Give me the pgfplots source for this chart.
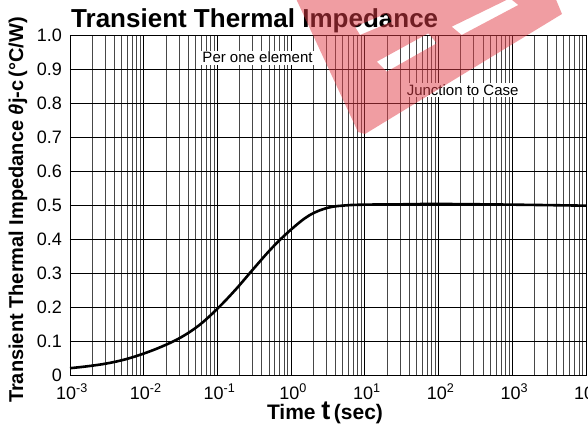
\documentclass[border=0pt]{standalone}
\usepackage{pgfplots}
\pgfplotsset{compat=1.18}
\usepackage{fontspec}
\setmainfont{Liberation Sans}
\definecolor{wm}{RGB}{225,60,70}
\begin{document}
\begin{tikzpicture}[x=1pt,y=1pt]
\begin{axis}[
  at={(0,0)}, anchor=south west,
  scale only axis, width=516pt, height=340pt,
  xmode=log, log basis x=10,
  xmin=1e-3, xmax=1e4, ymin=0, ymax=1,
  xtick={1e-3,1e-2,1e-1,1,1e1,1e2,1e3,1e4},
  xticklabels={10\textsuperscript{-3},10\textsuperscript{-2},10\textsuperscript{-1},10\textsuperscript{0},10\textsuperscript{1},10\textsuperscript{2},10\textsuperscript{3},10\textsuperscript{4}},
  minor xtick={2e-3,3e-3,4e-3,5e-3,6e-3,7e-3,8e-3,9e-3,
               2e-2,3e-2,4e-2,5e-2,6e-2,7e-2,8e-2,9e-2,
               0.2,0.3,0.4,0.5,0.6,0.7,0.8,0.9,
               2,3,4,5,6,7,8,9,
               20,30,40,50,60,70,80,90,
               200,300,400,500,600,700,800,900,
               2000,3000,4000,5000,6000,7000,8000,9000},
  ytick={0,0.1,0.2,0.3,0.4,0.5,0.6,0.7,0.8,0.9,1.0},
  yticklabels={0,0.1,0.2,0.3,0.4,0.5,0.6,0.7,0.8,0.9,1.0},
  grid=both,
  major grid style={black, line width=0.8pt},
  minor grid style={black!72, line width=0.7pt},
  major tick length=0pt, minor tick length=0pt,
  axis line style={black, line width=0.9pt},
  ticklabel style={font=\fontsize{18}{18}\selectfont},
  yticklabel style={inner sep=0pt, xshift=-8pt},
  xticklabel style={inner sep=0pt, yshift=-9pt, xshift=2pt},
]
\addplot[black, line width=2.6pt, smooth, tension=0.6] coordinates {
(0.001,0.020) (0.001778,0.026) (0.003162,0.034) (0.005623,0.046) (0.01,0.063)
(0.01778,0.084) (0.03162,0.110) (0.05623,0.146) (0.1,0.195) (0.1778,0.252)
(0.3162,0.315) (0.5623,0.376) (1,0.428) (1.778,0.470) (3.162,0.492)
(5.623,0.499) (10,0.501) (31.62,0.502) (100,0.503) (1000,0.501) (10000,0.498)};
\node[anchor=base, fill=white, inner sep=1.5pt, font=\fontsize{15}{15}\selectfont] at (axis cs:0.35,0.918) {Per one element};
\node[anchor=base, fill=white, inner sep=1.5pt, font=\fontsize{15}{15}\selectfont] at (axis cs:212,0.8235) {Junction to Case};
\end{axis}
% title
\node[anchor=base west, inner sep=0pt, font=\fontsize{26}{26}\selectfont\bfseries] at (1,347) {Transient Thermal Impedance};
% y label
\node[rotate=90, anchor=center, inner sep=0pt, font=\fontsize{20}{20}\selectfont\bfseries] at (-52,165) {Transient Thermal Impedance \textit{θ}j-c\,(°C/W)};
% x label
\node[anchor=base, inner sep=0pt, font=\fontsize{21}{21}\selectfont\bfseries] at (255,-45) {Time {\fontsize{27}{27}\selectfont t}\,(sec)};
% watermark
\fill[wm, fill opacity=0.5, even odd rule]
  (222,385) -- (482,385) -- (492,361) -- (295,241) -- (288,243) -- cycle
  (285,348.3) -- (290,340) -- (321.7,353.3) -- (316.7,361.7) -- cycle
  (306.7,313.3) -- (316.7,303.3) -- (366.7,331.7) -- (358.3,341.7) -- cycle
  (381.7,348.3) -- (391.7,340) -- (448.3,370) -- (440,376.7) -- cycle;
\pgfresetboundingbox
\path[use as bounding box] (-70,-52) rectangle (518,375);
\end{tikzpicture}
\end{document}
